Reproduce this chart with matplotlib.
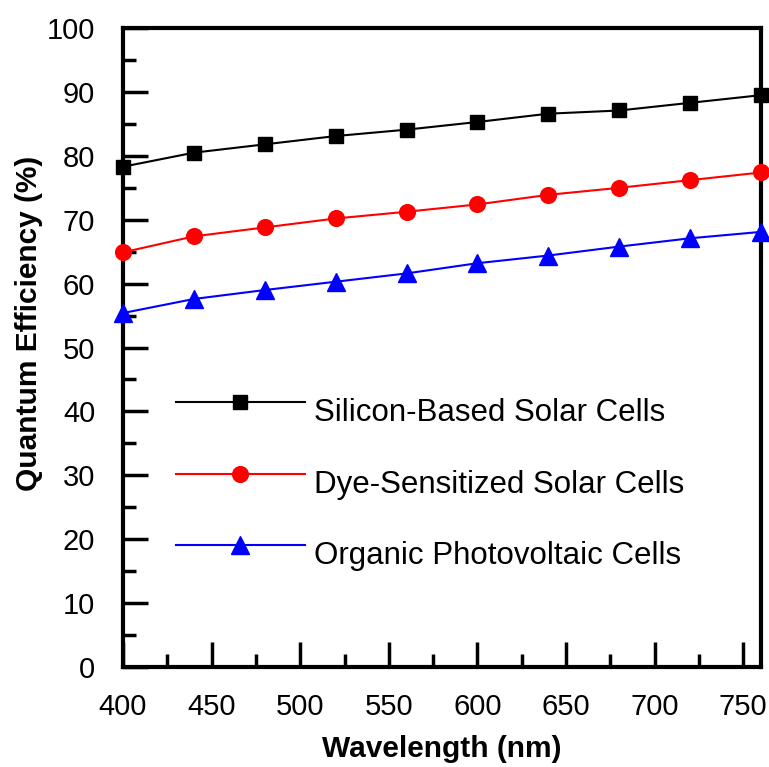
import matplotlib
matplotlib.use("Agg")
import matplotlib.pyplot as plt
from matplotlib.ticker import MultipleLocator

plt.rcParams['font.family'] = ['Liberation Sans', 'DejaVu Sans']

# data
wavelength = [400, 440, 480, 520, 560, 600, 640, 680, 720, 760]
silicon = [78.3, 80.5, 81.8, 83.1, 84.1, 85.3, 86.6, 87.1, 88.3, 89.5]
dye = [64.9, 67.4, 68.8, 70.2, 71.25, 72.4, 73.9, 75.0, 76.2, 77.4]
organic = [55.4, 57.6, 59.0, 60.3, 61.6, 63.2, 64.4, 65.8, 67.1, 68.1]
labels = ['Silicon-Based Solar Cells', 'Dye-Sensitized Solar Cells',
          'Organic Photovoltaic Cells']

fig = plt.figure(figsize=(7.69, 7.67), dpi=100)
ax = fig.add_axes([0.16, 0.1304, 0.8296, 0.833])

ax.plot(wavelength, silicon, color='black', marker='s', markersize=10.3, lw=1.5,
        label=labels[0], clip_on=False, zorder=3)
ax.plot(wavelength, dye, color='red', marker='o', markersize=11.3, lw=1.5,
        label=labels[1], clip_on=False, zorder=3)
ax.plot(wavelength, organic, color='blue', marker='^', markersize=12.5, lw=1.5,
        label=labels[2], clip_on=False, zorder=3)

ax.set_xlim(400, 760)
ax.set_ylim(0, 100)
ax.xaxis.set_major_locator(MultipleLocator(50))
ax.xaxis.set_minor_locator(MultipleLocator(25))
ax.yaxis.set_major_locator(MultipleLocator(10))
ax.yaxis.set_minor_locator(MultipleLocator(5))
ax.tick_params(which='both', direction='in', width=2.5, labelsize=21)
ax.tick_params(axis='x', pad=19)
ax.tick_params(axis='y', pad=20)
ax.tick_params(which='major', length=18)
ax.tick_params(which='minor', length=9.5)
for sp in ax.spines.values():
    sp.set_linewidth(3)

ax.set_xlabel('Wavelength (nm)', fontsize=21.5, fontweight='bold', labelpad=10)
ax.set_ylabel('Quantum Efficiency (%)', fontsize=21.5, fontweight='bold')
ax.yaxis.set_label_coords(-0.125, 0.538)

leg = ax.legend(loc='upper left', bbox_to_anchor=(0.0825, 0.433), frameon=False,
                fontsize=22.5, handlelength=4.13, handletextpad=0.29,
                labelspacing=1.32, borderaxespad=0, borderpad=0)
for t in leg.get_texts():
    t.set_y(-8)

fig.savefig('out.png', dpi=100)
